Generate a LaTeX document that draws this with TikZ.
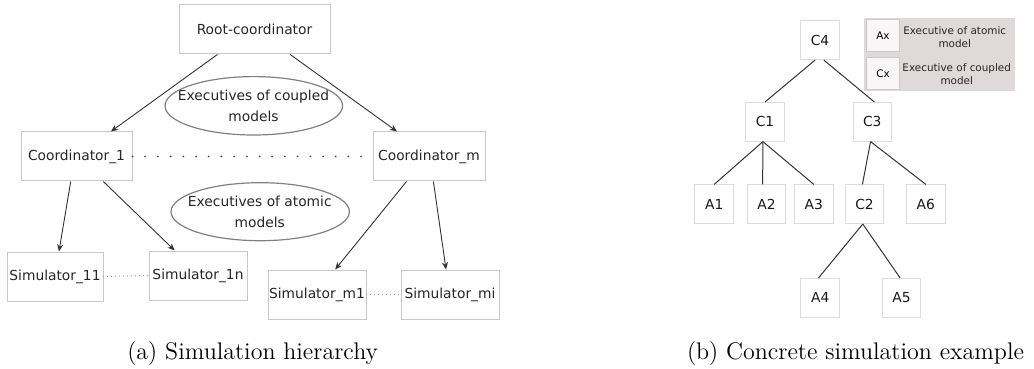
\documentclass[tikz,border=0pt]{standalone}
\usepackage{fontspec}
\setsansfont{DejaVu Sans}
\usetikzlibrary{arrows.meta}
\definecolor{boxline}{HTML}{C8C8C8}
\definecolor{treeline}{HTML}{DCDCDC}
\definecolor{edgegray}{HTML}{333333}
\definecolor{ovalline}{HTML}{808080}
\definecolor{legendbg}{HTML}{E0D9D9}
\definecolor{legendbox}{HTML}{F8F6F6}
\begin{document}
\begin{tikzpicture}[x=0.5pt,y=-0.5pt,>={Stealth[length=3.6pt,width=3pt]},
  box/.style={draw=boxline, line width=0.5pt, inner sep=0pt, minimum height=24.5pt, text=black!85, font=\sffamily\fontsize{6.9}{8.3}\selectfont},
  tbox/.style={draw=treeline, line width=0.5pt, inner sep=0pt, minimum width=19.3pt, minimum height=19.3pt, text=black!90, font=\sffamily\fontsize{6.9}{8.3}\selectfont},
  lbox/.style={draw=boxline, fill=legendbox, line width=0.5pt, inner sep=0pt, minimum width=16.3pt, minimum height=16.3pt, font=\sffamily\fontsize{5.2}{6.3}\selectfont},
  oval/.style={draw=ovalline, line width=0.6pt},
  ovaltext/.style={align=center, inner sep=0pt, text=black!85, font=\sffamily\fontsize{6.9}{10.4}\selectfont},
  legtext/.style={align=center, inner sep=0pt, text=black!85, font=\sffamily\fontsize{5.2}{6.35}\selectfont},
  arr/.style={->, draw=edgegray, line width=0.45pt},
  link/.style={draw=edgegray, line width=0.5pt},
  bigdots/.style={draw=black!70, line width=1pt, line cap=round, dash pattern=on 0pt off 6.35pt},
  smalldots/.style={draw=black!40, line width=0.6pt, line cap=round, dash pattern=on 0pt off 2pt},
  caption/.style={anchor=base, inner sep=0pt, font=\fontsize{12}{14}\selectfont}]
\useasboundingbox (0,0) rectangle (1034,369);
\node[box, minimum width=75.5pt] (root) at (254.5,29.5){Root-coordinator};
\node[box, minimum width=55.5pt] (coord1) at (76.5,156.5){Coordinator\_1};
\node[box, minimum width=56pt] (coordm) at (429,156.5){Coordinator\_m};
\node[box, minimum width=48pt] (sim11) at (55,276.5){Simulator\_11};
\node[box, minimum width=49pt] (sim1n) at (198,275.5){Simulator\_1n};
\node[box, minimum width=49pt] (simm1) at (317,294.5){Simulator\_m1};
\node[box, minimum width=49pt] (simmi) at (450,294.5){Simulator\_mi};
\node[ovaltext] (coupled) at (253.5,106){Executives of coupled\\models};
\draw[oval] (253.8,105.8) ellipse [x radius=88.8, y radius=29.2];
\node[ovaltext] (atomic) at (259.8,212){Executives of atomic\\models};
\draw[oval] (260.2,211.7) ellipse [x radius=89.2, y radius=29];
\draw[arr](root.214) -- (coord1.36);
\draw[arr](root.-35) -- (coordm.142);
\draw[arr](coord1.257) -- (sim11.81);
\draw[arr](coord1.317) -- (sim1n.133);
\draw[arr](coordm.228) -- (simm1.54);
\draw[arr](coordm.280) -- (simmi.99);
\draw[bigdots](coord1.east) -- (coordm.west);
\draw[smalldots](sim11.east) -- (sim1n.west);
\draw[smalldots](simm1.east) -- (simmi.west);
\node[caption] (capa) at (252.7,359.3){(a) Simulation hierarchy};
\node[tbox] (c4) at (820,40.3){C4};
\node[tbox] (c1) at (765,121.8){C1};
\node[tbox] (c3) at (872.3,121.8){C3};
\node[tbox] (a1) at (714.2,204.2){A1};
\node[tbox] (a2) at (766.5,204.2){A2};
\node[tbox] (a3) at (813.8,204.2){A3};
\node[tbox] (c2) at (864.5,204.2){C2};
\node[tbox] (a6) at (925.8,204.2){A6};
\node[tbox] (a4) at (820.2,297.8){A4};
\node[tbox] (a5) at (901.5,297.8){A5};
\draw[link](c4.256) -- (c1.north);
\draw[link](c4.281) -- (c3.84);
\draw[link](c1.264) -- (a1.north);
\draw[link](c1.264) -- (a2.101);
\draw[link](c1.264) -- (a3.north);
\draw[link](c3.265) -- (c2.96);
\draw[link](c3.265) -- (a6.north);
\draw[link](c2.265) -- (a4.95);
\draw[link](c2.265) -- (a5.94);
\fill[legendbg] (864,17.7) rectangle (1015,90.7);
\node[lbox] (ax) at (883,35.7){Ax};
\node[lbox] (cx) at (883,73.7){Cx};
\node[legtext] (axtext) at (954.7,37){Executive of atomic\\model};
\node[legtext] (cxtext) at (956.7,74.3){Executive of coupled\\model};
\node[caption] (capb) at (855.5,359.3){(b) Concrete simulation example};
\end{tikzpicture}
\end{document}
